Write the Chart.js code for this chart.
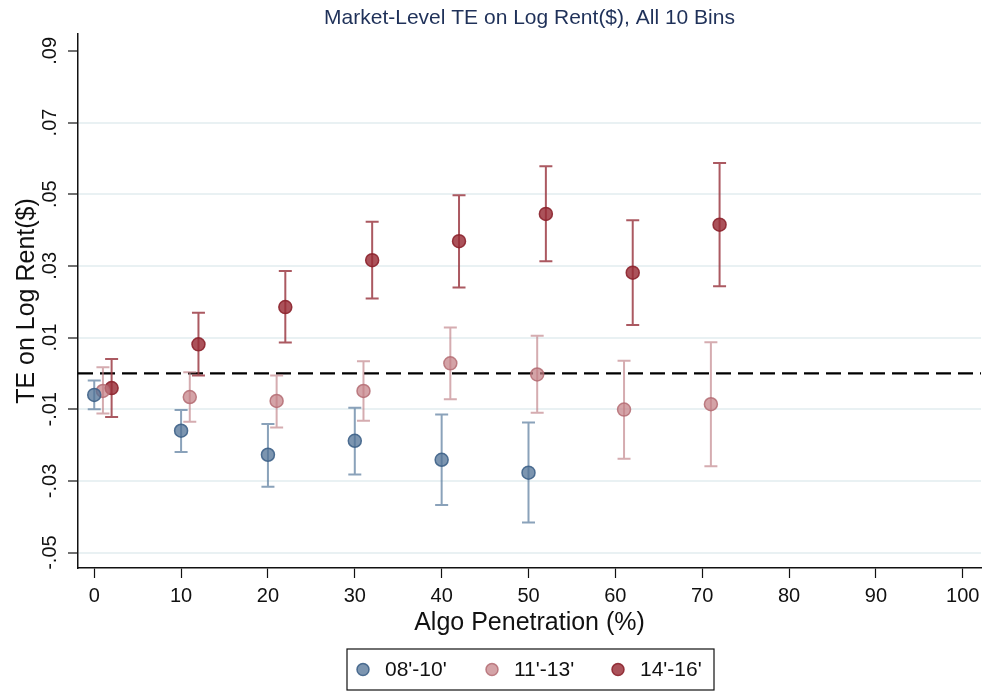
<!DOCTYPE html>
<html lang="en">
<head>
  <meta charset="UTF-8">
  <title>Market-Level TE on Log Rent</title>
  <script src="https://cdn.jsdelivr.net/npm/chart.js"></script>
  <style>
    body, html { margin: 0; padding: 0; background: #fff; overflow: hidden; }
    #wrap { width: 989px; height: 691px; }
  </style>
</head>
<body>
  <div id="wrap"><canvas id="teChart" width="989" height="691"></canvas></div>

  <script>
    // series labels and bin positions (%)
    const seriesLabels = ["08'-10'", "11'-13'", "14'-16'"];
    const x0810 = [0, 10, 20, 30, 40, 50];
    const x1113 = [1, 11, 21, 31, 41, 51, 61, 71];
    const x1416 = [2, 12, 22, 32, 42, 52, 62, 72];

    // point estimates and confidence bounds
    const te0810 = [-0.0060, -0.0160, -0.0227, -0.0188, -0.0241, -0.0277];
    const lo0810 = [-0.0100, -0.0219, -0.0316, -0.0282, -0.0367, -0.0416];
    const hi0810 = [-0.0020, -0.0102, -0.0141, -0.0096, -0.0115, -0.0137];

    const te1113 = [-0.0049, -0.0066, -0.0077, -0.0049, 0.0028, -0.0003, -0.0101, -0.0086];
    const lo1113 = [-0.0112, -0.0135, -0.0151, -0.0132, -0.0072, -0.0110, -0.0238, -0.0259];
    const hi1113 = [0.0017, 0.0003, -0.0006, 0.0034, 0.0128, 0.0105, 0.0035, 0.0087];

    const te1416 = [-0.0041, 0.0081, 0.0185, 0.0316, 0.0369, 0.0445, 0.0281, 0.0415];
    const lo1416 = [-0.0122, -0.0006, 0.0086, 0.0209, 0.0240, 0.0313, 0.0135, 0.0243];
    const hi1416 = [0.0040, 0.0169, 0.0286, 0.0423, 0.0497, 0.0578, 0.0427, 0.0587];

    const yTicks = [-0.05, -0.03, -0.01, 0.01, 0.03, 0.05, 0.07, 0.09];
    const yTickLabels = ['-.05', '-.03', '-.01', '.01', '.03', '.05', '.07', '.09'];
    const xTicks = [0, 10, 20, 30, 40, 50, 60, 70, 80, 90, 100];

    const FONT = "'Liberation Sans', Arial, Helvetica, sans-serif";

    const styles = [
      { fill: 'rgba(80,114,150,0.75)', line: 'rgba(62,98,136,0.9)', bar: 'rgba(88,122,156,0.7)' },
      { fill: 'rgba(194,124,130,0.7)', line: 'rgba(180,108,115,0.85)', bar: 'rgba(190,128,134,0.65)' },
      { fill: 'rgba(152,44,54,0.82)', line: 'rgba(140,36,46,0.9)', bar: 'rgba(152,52,62,0.82)' }
    ];

    function pts(xs, ys) {
      return xs.map((x, i) => ({ x: x, y: ys[i] }));
    }

    const bounds = [[lo0810, hi0810], [lo1113, hi1113], [lo1416, hi1416]];
    const xsAll = [x0810, x1113, x1416];

    // capped error bars, zero reference line, title, y tick labels, legend
    const decorPlugin = {
      id: 'decor',
      beforeDatasetsDraw(chart) {
        const ctx = chart.ctx;
        const xs = chart.scales.x, ys = chart.scales.y;
        const area = chart.chartArea;

        // dashed zero line
        ctx.save();
        ctx.strokeStyle = '#000';
        ctx.lineWidth = 2.2;
        ctx.setLineDash([15, 7]);
        ctx.beginPath();
        ctx.moveTo(area.left, ys.getPixelForValue(0));
        ctx.lineTo(area.right, ys.getPixelForValue(0));
        ctx.stroke();
        ctx.restore();

        // error bars
        bounds.forEach((b, d) => {
          ctx.save();
          ctx.strokeStyle = styles[d].bar;
          ctx.lineWidth = 2;
          xsAll[d].forEach((xv, i) => {
            const px = xs.getPixelForValue(xv);
            const pLo = ys.getPixelForValue(b[0][i]);
            const pHi = ys.getPixelForValue(b[1][i]);
            ctx.beginPath();
            ctx.moveTo(px, pLo); ctx.lineTo(px, pHi);
            ctx.moveTo(px - 6.5, pLo); ctx.lineTo(px + 6.5, pLo);
            ctx.moveTo(px - 6.5, pHi); ctx.lineTo(px + 6.5, pHi);
            ctx.stroke();
          });
          ctx.restore();
        });
      },
      afterDraw(chart) {
        const ctx = chart.ctx;
        const area = chart.chartArea;
        const ys = chart.scales.y;

        // title
        ctx.save();
        ctx.fillStyle = '#1f3159';
        ctx.font = '21px ' + FONT;
        ctx.textAlign = 'center';
        ctx.textBaseline = 'middle';
        ctx.fillText('Market-Level TE on Log Rent($), All 10 Bins', (area.left + area.right) / 2, 18);
        ctx.restore();

        // rotated y tick labels
        ctx.save();
        ctx.fillStyle = '#111';
        ctx.font = '20px ' + FONT;
        ctx.textAlign = 'center';
        ctx.textBaseline = 'middle';
        yTicks.forEach((v, i) => {
          ctx.save();
          ctx.translate(50, ys.getPixelForValue(v));
          ctx.rotate(-Math.PI / 2);
          ctx.fillText(yTickLabels[i], 0, 0);
          ctx.restore();
        });
        ctx.restore();

        // legend box
        const boxL = 347, boxT = 649, boxR = 714, boxB = 690;
        ctx.save();
        ctx.strokeStyle = '#111';
        ctx.lineWidth = 1.2;
        ctx.strokeRect(boxL, boxT, boxR - boxL, boxB - boxT);
        ctx.font = '21px ' + FONT;
        ctx.textBaseline = 'middle';
        ctx.textAlign = 'left';
        const itemX = [363, 492, 618];
        const cy = (boxT + boxB) / 2;
        seriesLabels.forEach((lab, d) => {
          ctx.beginPath();
          ctx.arc(itemX[d], cy, 6, 0, Math.PI * 2);
          ctx.fillStyle = styles[d].fill;
          ctx.fill();
          ctx.strokeStyle = styles[d].line;
          ctx.lineWidth = 1.5;
          ctx.stroke();
          ctx.fillStyle = '#111';
          ctx.fillText(lab, itemX[d] + 22, cy + 1);
        });
        ctx.restore();
      }
    };

    const mkSet = (d, xs, ys) => ({
      label: seriesLabels[d],
      data: pts(xs, ys),
      backgroundColor: styles[d].fill,
      borderColor: styles[d].line,
      borderWidth: 1.5,
      pointRadius: 6.5,
      pointHoverRadius: 6.5,
      showLine: false
    });

    new Chart(document.getElementById('teChart').getContext('2d'), {
      type: 'scatter',
      data: {
        datasets: [
          mkSet(0, x0810, te0810),
          mkSet(1, x1113, te1113),
          mkSet(2, x1416, te1416)
        ]
      },
      plugins: [decorPlugin],
      options: {
        responsive: false,
        animation: false,
        layout: { padding: { top: 34, right: 4, bottom: 53, left: 0 } },
        plugins: {
          legend: { display: false },
          title: { display: false },
          tooltip: { enabled: false }
        },
        scales: {
          x: {
            type: 'linear',
            min: -1.87,
            max: 102.1,
            afterBuildTicks(scale) {
              scale.ticks = xTicks.map(v => ({ value: v }));
            },
            afterFit(scale) { scale.height = 70; },
            grid: {
              display: true,
              drawOnChartArea: false,
              drawTicks: true,
              tickLength: 10,
              tickColor: '#111',
              tickWidth: 1.2
            },
            border: { display: true, color: '#111', width: 1.5 },
            ticks: {
              color: '#111',
              font: { family: FONT, size: 20 },
              padding: 6,
              maxRotation: 0,
              callback: v => String(v)
            },
            title: {
              display: true,
              text: 'Algo Penetration (%)',
              color: '#111',
              font: { family: FONT, size: 25 },
              padding: { top: 0, bottom: 0 }
            }
          },
          y: {
            type: 'linear',
            min: -0.0543,
            max: 0.0947,
            afterBuildTicks(scale) {
              scale.ticks = yTicks.map(v => ({ value: v }));
            },
            afterFit(scale) { scale.width = 78; },
            grid: {
              color: ctx => (ctx.tick && ctx.tick.value > 0.08 ? 'rgba(0,0,0,0)' : '#e9f1f3'),
              lineWidth: 2,
              drawTicks: true,
              tickLength: 10,
              tickColor: '#111',
              tickWidth: 1.2
            },
            border: { display: true, color: '#111', width: 1.5 },
            ticks: {
              display: true,
              color: 'rgba(0,0,0,0)',
              font: { family: FONT, size: 1 },
              callback: () => ''
            },
            title: {
              display: true,
              text: 'TE on Log Rent($)',
              color: '#111',
              font: { family: FONT, size: 25 },
              padding: { top: 12, bottom: 0 }
            }
          }
        }
      }
    });
  </script>
</body>
</html>
